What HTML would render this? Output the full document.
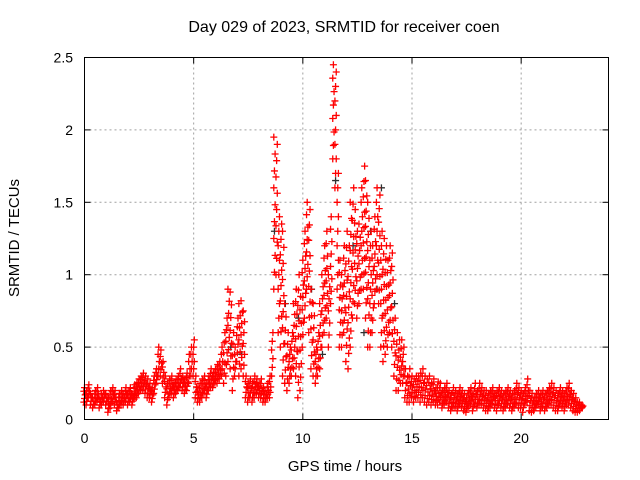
<!DOCTYPE html>
<html><head><meta charset="utf-8"><style>
html,body{margin:0;padding:0;background:#fff}
svg{display:block;font-family:"Liberation Sans",sans-serif}
</style></head><body>
<svg id="chart" width="640" height="480" viewBox="0 0 640 480" xmlns="http://www.w3.org/2000/svg">
<rect width="640" height="480" fill="#fff"/>
<text x="344" y="32" font-size="16" text-anchor="middle">Day 029 of 2023, SRMTID for receiver coen</text>
<text x="345" y="471" font-size="15" text-anchor="middle">GPS time / hours</text>
<text transform="translate(19,238) rotate(-90)" font-size="15" text-anchor="middle">SRMTID / TECUs</text>
<g id="grid"></g>
<g id="ticks"></g>
<g id="marks"></g>
<rect x="84.5" y="57.5" width="524" height="362" fill="none" stroke="#000" stroke-width="1"/>
</svg>
<script>
const xTicks=[0,5,10,15,20];
const yTicks=[0,0.5,1,1.5,2,2.5];
const yTickLabels=["0","0.5","1","1.5","2","2.5"];
const tStart=0, tStep=0.1;
const redHigh=[0.22,0.2,0.24,0.18,0.15,0.2,0.22,0.14,0.18,0.2,
0.18,0.15,0.2,0.22,0.2,0.12,0.18,0.2,0.18,0.22,
0.2,0.22,0.18,0.24,0.25,0.28,0.3,0.32,0.3,0.28,
0.25,0.22,0.3,0.35,0.5,0.48,0.4,0.3,0.25,0.28,
0.3,0.25,0.28,0.3,0.35,0.3,0.28,0.32,0.45,0.5,
0.55,0.3,0.22,0.25,0.28,0.3,0.25,0.3,0.35,0.32,
0.35,0.38,0.4,0.5,0.6,0.7,0.9,0.88,0.6,0.5,
0.7,0.8,0.82,0.75,0.3,0.25,0.28,0.25,0.3,0.28,
0.25,0.28,0.22,0.2,0.25,0.3,0.6,1.95,1.9,1.4,
1.35,1.3,0.8,0.6,0.5,0.6,0.8,0.9,1.0,0.85,
1.1,1.3,1.5,1.45,0.9,0.8,0.5,0.6,0.8,1.0,
1.2,1.3,1.0,1.4,2.45,2.4,1.7,1.1,1.0,1.2,
1.3,1.2,1.5,1.6,1.45,1.3,1.35,1.6,1.75,1.65,
1.5,1.3,1.2,1.4,1.6,1.55,1.3,1.25,1.2,1.1,
1.2,1.15,0.7,0.6,0.55,0.55,0.5,0.35,0.3,0.35,
0.3,0.28,0.3,0.3,0.32,0.35,0.3,0.28,0.3,0.25,
0.28,0.22,0.26,0.25,0.2,0.22,0.25,0.2,0.18,0.22,
0.2,0.18,0.22,0.2,0.18,0.15,0.2,0.22,0.18,0.25,
0.2,0.25,0.22,0.2,0.2,0.18,0.2,0.22,0.18,0.2,
0.22,0.2,0.18,0.2,0.22,0.2,0.18,0.2,0.25,0.22,
0.2,0.18,0.22,0.28,0.2,0.18,0.15,0.18,0.2,0.18,
0.2,0.18,0.2,0.22,0.25,0.22,0.2,0.18,0.22,0.2,
0.18,0.22,0.25,0.2,0.18,0.15,0.12,0.12,0.1];
const redLow=[0.12,0.1,0.15,0.1,0.08,0.1,0.12,0.08,0.1,0.12,
0.1,0.05,0.08,0.12,0.1,0.06,0.08,0.1,0.1,0.12,
0.1,0.12,0.1,0.14,0.15,0.18,0.2,0.2,0.18,0.15,
0.15,0.12,0.18,0.25,0.3,0.3,0.25,0.15,0.1,0.15,
0.18,0.15,0.18,0.2,0.22,0.2,0.18,0.2,0.25,0.3,
0.3,0.15,0.12,0.12,0.15,0.18,0.15,0.2,0.22,0.22,
0.25,0.25,0.28,0.3,0.25,0.3,0.4,0.35,0.2,0.3,
0.4,0.3,0.35,0.3,0.15,0.12,0.15,0.12,0.15,0.18,
0.15,0.15,0.12,0.12,0.15,0.15,0.3,0.9,1.0,0.6,
0.5,0.3,0.25,0.2,0.25,0.3,0.35,0.3,0.15,0.2,
0.5,0.7,0.9,0.6,0.35,0.3,0.25,0.3,0.35,0.5,
0.6,0.7,0.5,0.8,1.8,1.6,0.9,0.5,0.5,0.6,
0.4,0.35,0.5,0.7,0.8,0.7,0.8,0.9,0.9,0.7,
0.5,0.5,0.6,0.8,0.9,0.8,0.5,0.4,0.45,0.5,
0.6,0.5,0.3,0.2,0.2,0.25,0.25,0.15,0.12,0.12,
0.15,0.12,0.15,0.15,0.12,0.15,0.12,0.1,0.12,0.1,
0.12,0.1,0.1,0.12,0.08,0.1,0.12,0.08,0.06,0.08,
0.08,0.06,0.1,0.08,0.06,0.05,0.08,0.1,0.06,0.1,
0.08,0.1,0.1,0.08,0.06,0.06,0.08,0.1,0.08,0.06,
0.1,0.08,0.06,0.08,0.1,0.08,0.06,0.08,0.1,0.08,
0.08,0.05,0.1,0.12,0.06,0.05,0.06,0.08,0.1,0.06,
0.08,0.06,0.08,0.1,0.1,0.08,0.06,0.06,0.1,0.08,
0.06,0.1,0.1,0.08,0.06,0.05,0.05,0.06,0.08];
const blackTimes=[6.7,7.2,8.7,9.2,9.8,10.4,10.9,11.5,12.3,12.8,13.1,13.4,13.6,14.2];
const blackValues=[0.5,0.45,1.3,0.8,0.7,0.9,0.45,1.65,1.2,0.6,1.3,0.9,1.6,0.8];

const NS="http://www.w3.org/2000/svg";
const X0=84.5,X1=608.5,Y0=419.5,Y1=57.5;
const xScale=h=>X0+(h/24)*(X1-X0);
const yScale=v=>Y0-(v/2.5)*(Y0-Y1);
const grid=document.getElementById('grid');
const ticks=document.getElementById('ticks');
const marks=document.getElementById('marks');
function mk(tag,attrs,parent){const e=document.createElementNS(NS,tag);for(const k in attrs)e.setAttribute(k,attrs[k]);parent.appendChild(e);return e;}
xTicks.forEach(t=>{
  const x=xScale(t);
  if(t>0){const g=mk('line',{x1:x,x2:x,y1:Y1,y2:Y0,stroke:'#a0a0a0','stroke-dasharray':'2,3'},grid);
  
  }
  mk('line',{x1:x,x2:x,y1:Y0,y2:Y0-6,stroke:'#000'},ticks);
  mk('line',{x1:x,x2:x,y1:Y1,y2:Y1+6,stroke:'#000'},ticks);
  const l=mk('text',{x:x,y:443,'font-size':14,'text-anchor':'middle'},ticks);
  l.textContent=String(t);
  
  
});
yTicks.forEach((v,i)=>{
  const y=yScale(v);
  if(v>0&&v<2.5){const g=mk('line',{x1:X0,x2:X1,y1:y,y2:y,stroke:'#a0a0a0','stroke-dasharray':'2,3'},grid);
  
  }
  mk('line',{x1:X0,x2:X0+6,y1:y,y2:y,stroke:'#000'},ticks);
  mk('line',{x1:X1,x2:X1-6,y1:y,y2:y,stroke:'#000'},ticks);
  const l=mk('text',{x:73,y:y+5,'font-size':14,'text-anchor':'end'},ticks);
  l.textContent=yTickLabels[i];
  
  
});
function plus(h,v,color){
  const x=xScale(h),y=yScale(v);
  const p=mk('path',{d:`M${x-3.5},${y}H${x+3.5}M${x},${y-3.5}V${y+3.5}`,stroke:color,'stroke-width':1.3,fill:'none'},marks);
  
  
}
blackTimes.forEach((t,i)=>plus(t,blackValues[i],'#303030'));
redHigh.forEach((hi,i)=>{
  const t=tStart+i*tStep, lo=redLow[i];
  const n=3+Math.round((hi-lo)*6);
  for(let k=0;k<=n;k++){const f=k/n;plus(t+((k%3)-1)*0.03,lo+(hi-lo)*f,'#ff0000');}
});
</script>
</body></html>
